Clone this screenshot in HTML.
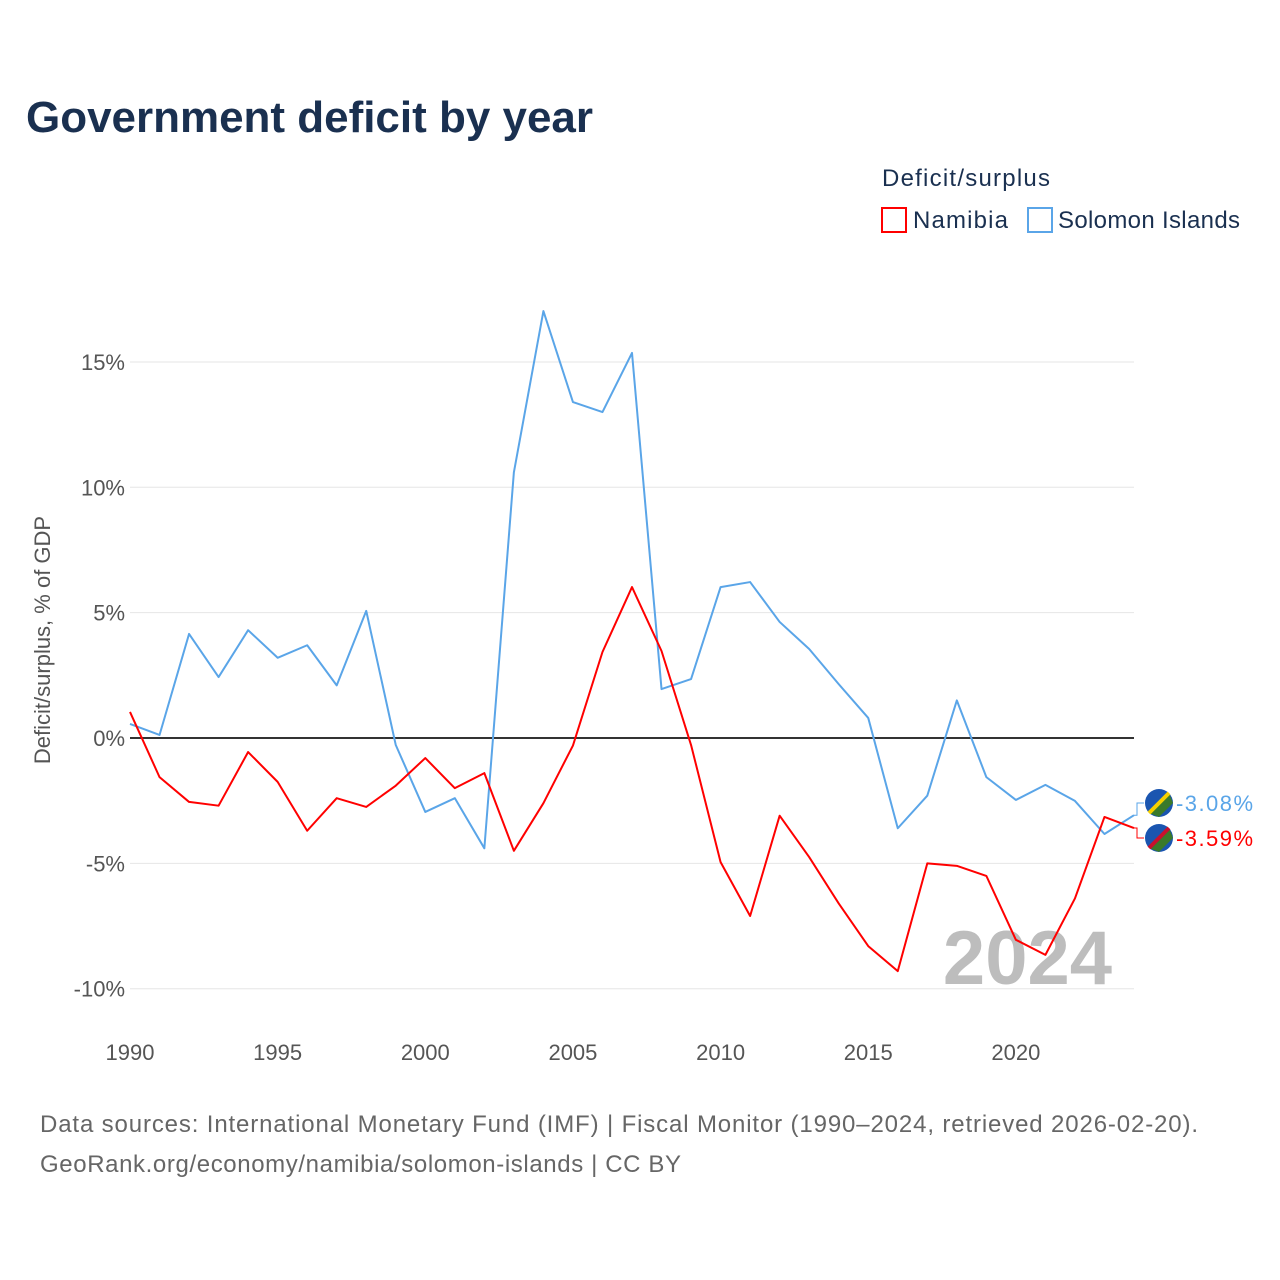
<!DOCTYPE html>
<html><head><meta charset="utf-8"><style>
body{margin:0;background:#fff;}
svg{display:block;font-family:"Liberation Sans",sans-serif;}
</style></head><body>
<svg id="chart" width="1280" height="1280" viewBox="0 0 1280 1280">
<text x="26" y="132" font-size="44" font-weight="bold" fill="#1a3050" textLength="567">Government deficit by year</text>
<text x="882" y="186" font-size="24" fill="#1a3050" textLength="168">Deficit/surplus</text>
<g><rect x="882" y="208" width="24" height="24" fill="none" stroke="#ff0000" stroke-width="2"/><text x="913" y="228" font-size="24" fill="#1a3050" textLength="95">Namibia</text></g>
<g><rect x="1028" y="208" width="24" height="24" fill="none" stroke="#5aa5e8" stroke-width="2"/><text x="1058" y="228" font-size="24" fill="#1a3050" textLength="182">Solomon Islands</text></g>
<text transform="translate(50,640) rotate(-90)" text-anchor="middle" font-size="22" fill="#555">Deficit/surplus, % of GDP</text>
<g id="grid"></g>
<text x="1112" y="984" text-anchor="end" font-size="76" font-weight="bold" fill="#bdbdbd">2024</text>
<g id="series"></g>
<text x="40" y="1132" font-size="24" fill="#666" textLength="1158">Data sources: International Monetary Fund (IMF) | Fiscal Monitor (1990–2024, retrieved 2026-02-20).</text>
<text x="40" y="1172" font-size="24" fill="#666" textLength="641">GeoRank.org/economy/namibia/solomon-islands | CC BY</text>
</svg>
<script>
const years=[];for(let y=1990;y<=2024;y++)years.push(y);
const namibia=[1.04,-1.56,-2.55,-2.7,-0.56,-1.75,-3.7,-2.4,-2.75,-1.9,-0.8,-2.0,-1.4,-4.5,-2.6,-0.3,3.43,6.02,3.47,-0.28,-4.95,-7.1,-3.1,-4.75,-6.6,-8.3,-9.3,-5.0,-5.1,-5.5,-8.05,-8.65,-6.4,-3.15,-3.59];
const solomon=[0.56,0.12,4.15,2.43,4.3,3.2,3.7,2.1,5.07,-0.28,-2.95,-2.4,-4.4,10.6,17.03,13.4,13.0,15.36,1.95,2.35,6.02,6.22,4.63,3.55,2.15,0.8,-3.6,-2.3,1.5,-1.56,-2.47,-1.87,-2.51,-3.83,-3.08];
const yTicks=[-10,-5,0,5,10,15];
const xTicks=[1990,1995,2000,2005,2010,2015,2020];
const NS="http://www.w3.org/2000/svg";
const xs=y=>130+(y-1990)*(1004/34);
const ys=v=>738-v*25.07;
const grid=document.getElementById('grid'),ser=document.getElementById('series');
function mk(tag,attrs,parent){const e=document.createElementNS(NS,tag);for(const k in attrs)e.setAttribute(k,attrs[k]);parent.appendChild(e);return e;}
yTicks.forEach(t=>{
  const l=mk('line',{x1:130,x2:1134,y1:ys(t),y2:ys(t),stroke:t===0?'#333':'#e6e6e6','stroke-width':t===0?2:1},grid);
  
  
  const tx=mk('text',{x:125,y:ys(t)+8,'text-anchor':'end','font-size':22,fill:'#555'},grid);
  tx.textContent=t+'%';
  
  
});
xTicks.forEach(t=>{
  const tx=mk('text',{x:xs(t),y:1060,'text-anchor':'middle','font-size':22,fill:'#555'},grid);
  tx.textContent=t;
  
  
});
function line(vals,color,name){
  const p=mk('polyline',{points:vals.map((v,i)=>xs(years[i])+','+ys(v)).join(' '),fill:'none',stroke:color,'stroke-width':2,'stroke-linejoin':'round'},ser);
  
  
}
line(solomon,'#5aa5e8','solomon-islands-line');
line(namibia,'#ff0000','namibia-line');
function endLabel(vals,color,ly,name,flagColors){
  const v=vals[vals.length-1],x=xs(2024),y=ys(v);
  mk('polyline',{points:`${x},${y} ${x+3},${y} ${x+3},${ly} ${x+10},${ly}`,fill:'none',stroke:color,'stroke-width':1},ser);
  const g=mk('g',{},ser);
  
  
  const cx=x+25;
  mk('circle',{cx:cx,cy:ly,r:14,fill:flagColors[0]},g);
  mk('path',{d:`M${cx-10},${ly+10} L${cx+10},${ly-10} L${cx+14},${ly} L${cx},${ly+14}Z`,fill:flagColors[1]},g);
  mk('line',{x1:cx-10,y1:ly+10,x2:cx+10,y2:ly-10,stroke:flagColors[2],'stroke-width':4},g);
  const t=mk('text',{x:x+42,y:ly+8,'font-size':22,fill:color,textLength:77},ser);
  t.textContent=v.toFixed(2)+'%';
  
  
}
endLabel(solomon,'#5aa5e8',803,'solomon-islands',['#1a55b0','#3a7a2a','#f5d000']);
endLabel(namibia,'#ff0000',838,'namibia',['#1a55b0','#3a7a2a','#c8102e']);
</script>
</body></html>
